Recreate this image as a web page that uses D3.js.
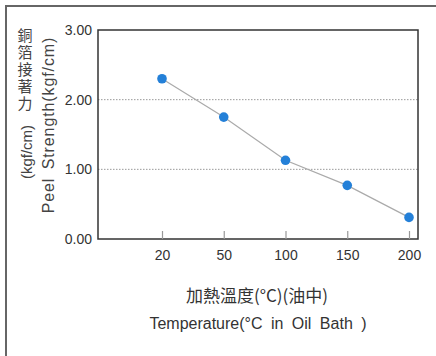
<!DOCTYPE html>
<html><head><meta charset="utf-8">
<script src="https://cdn.jsdelivr.net/npm/d3@7"></script>
<style>body{margin:0;background:#fff}svg{display:block}</style>
</head><body>
<script>
const categories = ["20","50","100","150","200"];
const values = [2.30, 1.75, 1.13, 0.77, 0.31];
const yTicks = [0, 1, 2, 3];
const yTickLabels = ["0.00","1.00","2.00","3.00"];
const gridValues = [1, 2];
const yLabelZh = "銅箔接著力";
const yLabelEn = "Peel Strength(kgf/cm)";
const yUnit = "(kgf/cm)";
const xLabelZh = "加熱溫度(°C)(油中)";
const xLabelEn = "Temperature(°C in Oil Bath )";

const W = 436, H = 356;
const svg = d3.select("body").append("svg").attr("width", W).attr("height", H);
const font = "'Liberation Sans', Arial, sans-serif";
const cjk = "'Noto Sans CJK TC', sans-serif";

// outer frame (top & left)
svg.append("path").attr("d", `M6,${H} L6,6 L${W},6`).attr("fill","none")
  .attr("stroke","#666").attr("stroke-width",2);

const L = 98, R = 418, T = 30, B = 239;
const x = d3.scalePoint().domain(categories).range([162, 409]);
const y = d3.scaleLinear().domain([0,3]).range([B, T]);

// gridlines
svg.selectAll(".grid").data(gridValues).enter().append("line")
  .attr("x1", L).attr("x2", R).attr("y1", d=>y(d)).attr("y2", d=>y(d))
  .attr("stroke","#999").attr("stroke-width",1).attr("stroke-dasharray","1.5,1.5");

// plot frame
svg.append("rect").attr("x",L).attr("y",T).attr("width",R-L).attr("height",B-T)
  .attr("fill","none").attr("stroke","#333").attr("stroke-width",1.5);

// x axis ticks (inward) and labels
const xAxis = d3.axisBottom(x).tickSize(-8).tickPadding(11);
const gx = svg.append("g").attr("transform",`translate(0,${B})`).call(xAxis);
gx.select(".domain").remove();
gx.selectAll(".tick line").attr("stroke","#999").attr("stroke-width",1.2);
gx.selectAll(".tick text").attr("font-family",font).attr("font-size",14).attr("fill","#333");

// y axis labels
const yAxis = d3.axisLeft(y).tickValues(yTicks).tickFormat((d,i)=>yTickLabels[i]).tickSize(0).tickPadding(6);
const gy = svg.append("g").attr("transform",`translate(${L},0)`).call(yAxis);
gy.select(".domain").remove();
gy.selectAll(".tick text").attr("font-family",font).attr("font-size",14).attr("fill","#333");

// line
const line = d3.line().x((d,i)=>x(categories[i])).y(d=>y(d));
svg.append("path").datum(values).attr("d", line).attr("fill","none")
  .attr("stroke","#aaa").attr("stroke-width",1.2);

// points
svg.selectAll(".pt").data(values).enter().append("circle")
  .attr("cx",(d,i)=>x(categories[i])).attr("cy",d=>y(d)).attr("r",4.8)
  .attr("fill","#2480d8");

// y axis title
svg.append("text").attr("x",25).attr("y",28)
  .style("writing-mode","vertical-rl").style("text-orientation","upright")
  .attr("letter-spacing",2)
  .attr("font-family",cjk).attr("font-size",15).attr("fill","#444")
  .text(yLabelZh);
svg.append("text").attr("transform","translate(32,152) rotate(-90)")
  .attr("text-anchor","middle").attr("font-family",font).attr("font-size",15).attr("fill","#444")
  .text(yUnit);
svg.append("text").attr("transform","translate(54,125) rotate(-90)")
  .attr("text-anchor","middle").attr("font-family",font).attr("font-size",16).attr("fill","#444")
  .attr("letter-spacing",0.9).attr("word-spacing",3)
  .text(yLabelEn);

// x axis titles
svg.append("text").attr("x",257).attr("y",302).attr("text-anchor","middle")
  .attr("font-family",cjk).attr("font-size",17).attr("fill","#333")
  .text(xLabelZh);
svg.append("text").attr("x",258).attr("y",329).attr("text-anchor","middle")
  .attr("font-family",font).attr("font-size",16).attr("fill","#333")
  .attr("word-spacing",4)
  .text(xLabelEn);
</script>
</body></html>
